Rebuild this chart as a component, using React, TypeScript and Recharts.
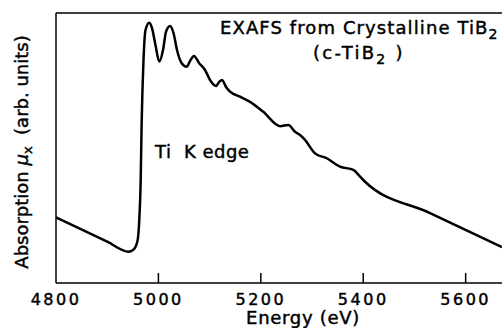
import { LineChart, Line, XAxis, YAxis, ReferenceLine } from 'recharts'

const energy = [4800, 4900, 4941.6, 4950.4, 4958.8, 4962.1, 4965.4, 4967.4, 4970.9, 4974.8, 4982.2, 4987.5, 4994.3, 5001.8, 5009, 5014.8, 5022.7, 5029.5, 5036.3, 5045.5, 5055.3, 5061.7, 5069.5, 5079.3, 5091, 5100.8, 5112.5, 5118.4, 5124.2, 5132, 5139.8, 5159.4, 5178.9, 5204.9, 5237.5, 5253.7, 5266.8, 5276.6, 5286.3, 5305.9, 5328.7, 5354.7, 5380.7, 5393.8, 5403.5, 5530.5, 5671]
const absorption = [24.3, 15.3, 11.6, 12.2, 15.3, 21.5, 38.1, 60.4, 82.6, 93.7, 96.4, 94.4, 88.1, 82.0, 86.3, 93.0, 95.2, 92.6, 86.3, 81.4, 80.1, 82.2, 84.1, 81.5, 78.9, 75.2, 73.0, 74.4, 75.2, 72.6, 70.9, 69.0, 67.1, 63.4, 58.1, 58.5, 56.0, 54.8, 53.0, 48.0, 46.2, 43.1, 41.9, 39.4, 37.5, 25.9, 13.3]
const energyTicks = [4800, 5000, 5200, 5400, 5600]

const data = energy.map((e, i) => ({ e, mu: absorption[i] }))

const font = '"DejaVu Sans", sans-serif'
// slightly heavier glyphs, closer to the scanned lettering
const ink = { fill: '#000', stroke: '#000', strokeWidth: 0.45, fontFamily: font, style: { whiteSpace: 'pre' as const } }

function EnergyTick({ x, y, payload }: any) {
  return (
    <g>
      {payload.value !== 4800 && <line x1={x} x2={x} y1={y} y2={y - 10} stroke="#000" strokeWidth={1.5} />}
      <text x={x} y={y + 22} textAnchor="middle" fontSize={16} letterSpacing={2.5} {...ink}>
        {payload.value}
      </text>
    </g>
  )
}

export default function App() {
  return (
    <div style={{ position: 'absolute', left: 0, top: 0, width: 502, height: 328, background: '#fff', overflow: 'hidden' }}>
      <LineChart width={502} height={328} data={data} margin={{ top: 13, right: 0, left: 56, bottom: 0 }}>
        <XAxis
          dataKey="e" type="number" domain={[4800, 5671]} ticks={energyTicks} allowDataOverflow
          height={45} tickSize={0} tickMargin={0} tickLine={false} tick={EnergyTick}
          axisLine={{ stroke: '#000', strokeWidth: 1.5 }}
        />
        <YAxis type="number" domain={[0, 100]} hide />
        <ReferenceLine y={100} stroke="#000" strokeWidth={1.5} />
        <ReferenceLine x={4800} stroke="#000" strokeWidth={1.5} />
        <Line type="monotone" dataKey="mu" stroke="#000" strokeWidth={2.5} dot={false} isAnimationActive={false} />
        <text x={220} y={34} fontSize={18} letterSpacing={1.1} {...ink}>
          EXAFS from Crystalline TiB<tspan fontSize={14} dy={5}>2</tspan>
        </text>
        <text x={313} y={59} fontSize={18} letterSpacing={2.3} {...ink}>
          (c-TiB<tspan fontSize={14} dy={5}>2</tspan><tspan dy={-5}> )</tspan>
        </text>
        <text x={155} y={158} fontSize={18} letterSpacing={0.5} {...ink}>{'Ti  K edge'}</text>
        <text x={303} y={324} textAnchor="middle" fontSize={18} letterSpacing={0.7} {...ink}>Energy (eV)</text>
        <text transform="translate(28,152) rotate(-90)" textAnchor="middle" fontSize={18} letterSpacing={0} {...ink}>
          Absorption <tspan fontStyle="italic">μ</tspan><tspan fontSize={13} dy={4}>x</tspan><tspan dy={-4}>{'  (arb. units)'}</tspan>
        </text>
      </LineChart>
    </div>
  )
}
